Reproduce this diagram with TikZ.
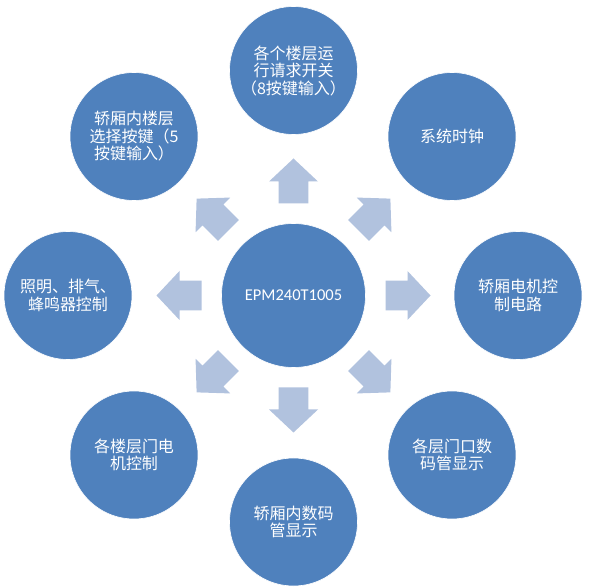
\documentclass[tikz,border=0pt]{standalone}
\usepackage{fontspec}
\usetikzlibrary{calc}
\setmainfont{Carlito}
\newfontfamily\cjk{Noto Sans CJK SC}
\definecolor{circblue}{HTML}{4F81BD}
\definecolor{arrblue}{HTML}{B1C2DE}
\begin{document}
\begin{tikzpicture}[x=1pt,y=-1pt,
  outer/.style={circle,fill=circblue,draw=white,line width=0.6pt,minimum size=128pt,inner sep=0pt,
     text=white,align=center,font=\cjk\fontsize{16}{17.5}\selectfont},
  hub/.style={circle,fill=circblue,draw=white,line width=0.6pt,minimum size=144pt,inner sep=0pt,
     text=white,font=\fontsize{16.5}{18}\selectfont},
  blockarrow/.style={fill=arrblue,draw=none}]
\useasboundingbox (0,0) rectangle (590,588);
\node[hub] (c) at (293.5,295.5) {EPM240T1005};
\node[outer] (n)  at ($(c)+(0,-225)$) {各个楼层运\\行请求开关\\（8按键输入）};
\node[outer] (ne) at ($(c)+(158.5,-159)$) {系统时钟};
\node[outer] (e)  at ($(c)+(224.5,0)$) {轿厢电机控\\制电路};
\node[outer] (se) at ($(c)+(158.5,159.5)$) {各层门口数\\码管显示};
\node[outer] (s)  at ($(c)+(0,226.5)$) {轿厢内数码\\管显示};
\node[outer] (sw) at ($(c)+(-159.5,159.5)$) {各楼层门电\\机控制};
\node[outer] (w)  at ($(c)+(-225.5,0)$) {照明、排气、\\蜂鸣器控制};
\node[outer] (nw) at ($(c)+(-159.5,-159)$) {轿厢内楼层\\选择按键（5\\按键输入）};
\foreach \ang in {0,45,90,135,180,225,270,315}{
  \begin{scope}[shift={(c)},rotate=\ang]
    \fill[blockarrow] (92,-14.8) -- (114,-14.8) -- (114,-24.5) -- (137,0)
      -- (114,24.5) -- (114,14.8) -- (92,14.8) -- cycle;
  \end{scope}
}
\end{tikzpicture}
\end{document}
